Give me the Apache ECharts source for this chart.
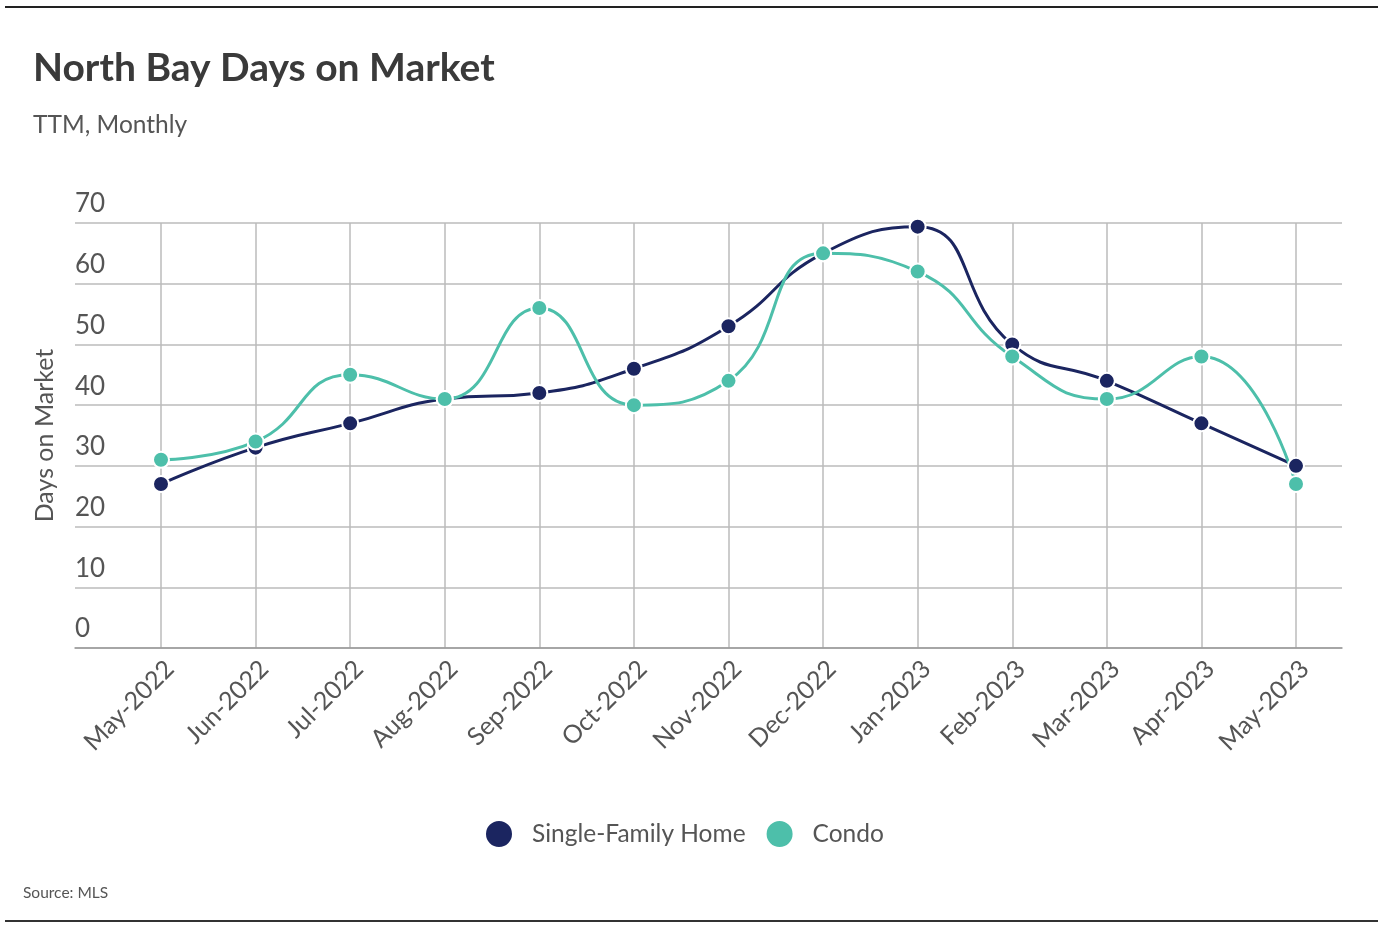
<!DOCTYPE html>
<html><head><meta charset="utf-8">
<script src="https://cdn.jsdelivr.net/npm/echarts@6/dist/echarts.min.js"></script>
<style>html,body{margin:0;padding:0;background:#fff}#c{width:1390px;height:942px}</style>
</head><body><div id="c"></div>
<script>
const categories = ['May-2022','Jun-2022','Jul-2022','Aug-2022','Sep-2022','Oct-2022','Nov-2022','Dec-2022','Jan-2023','Feb-2023','Mar-2023','Apr-2023','May-2023'];
const singleFamily = [27, 33, 37, 41, 42, 46, 53, 65, 69.4, 50, 44, 37, 30];
const condo = [31, 34, 45, 41, 56, 40, 44, 65, 62, 48, 41, 48, 27];
const yTicks = [0, 10, 20, 30, 40, 50, 60, 70];

const FONT = 'Lato';
const chart = echarts.init(document.getElementById('c'));
const gTop = 223, gBottom = 942 - 648;
chart.setOption({
  backgroundColor: '#fff',
  animation: false,
  title: [
    {text: 'North Bay Days on Market', left: 28, top: 44, textStyle: {fontFamily: FONT, fontWeight: 'bold', fontSize: 39, color: '#3a3a3a'}},
    {text: 'TTM, Monthly', left: 28, top: 108, textStyle: {fontFamily: FONT, fontWeight: 'normal', fontSize: 24.5, color: '#555'}},
    {text: 'Source: MLS', left: 18, top: 880, textStyle: {fontFamily: FONT, fontWeight: 'normal', fontSize: 15.5, color: '#555'}}
  ],
  graphic: [
    {type: 'rect', shape: {x: 5, y: 6, width: 1373, height: 2}, style: {fill: '#222'}},
    {type: 'rect', shape: {x: 5, y: 920, width: 1373, height: 2}, style: {fill: '#333'}}
  ],
  legend: {
    left: 479, top: 814,
    icon: 'circle', itemWidth: 28, itemHeight: 28, itemGap: 19,
    textStyle: {fontFamily: FONT, fontSize: 24.5, color: '#555', padding: [0, 0, 0, 14]},
    data: ['Single-Family Home', 'Condo']
  },
  grid: [
    {left: 75, right: 48, top: gTop, bottom: gBottom},
    {left: 161, right: 94, top: gTop, bottom: gBottom}
  ],
  xAxis: [
    {type: 'value', gridIndex: 0, min: 0, max: 1, axisLine: {show: true, onZero: false, lineStyle: {color: '#999', width: 1.5}}, axisTick: {show: false}, axisLabel: {show: false}, splitLine: {show: false}},
    {type: 'category', gridIndex: 1, data: categories, boundaryGap: false,
     axisLine: {show: false}, axisTick: {show: false},
     axisLabel: {rotate: 45, margin: 8, verticalAlign: 'top', fontFamily: FONT, fontSize: 25, color: '#555', interval: 0},
     splitLine: {show: true, lineStyle: {color: '#bbb', width: 1.5}}}
  ],
  yAxis: [
    {type: 'value', gridIndex: 0, min: 0, max: 70, interval: 10,
     name: 'Days on Market', nameLocation: 'middle', nameRotate: 90, nameGap: 18,
     nameTextStyle: {fontFamily: FONT, fontSize: 25, color: '#555'},
     axisLine: {show: false}, axisTick: {show: false},
     axisLabel: {align: 'left', verticalAlign: 'bottom', margin: 0, padding: [0, 0, 6, 0], fontFamily: FONT, fontSize: 26, color: '#555',
       formatter: v => yTicks.includes(v) ? String(v) : ''},
     splitLine: {show: true, lineStyle: {color: '#bbb', width: 1.5}}},
    {type: 'value', gridIndex: 1, min: 0, max: 70, interval: 10, show: false, splitLine: {show: false}}
  ],
  series: [
    {name: 'Single-Family Home', type: 'line', xAxisIndex: 1, yAxisIndex: 1, data: singleFamily, smooth: true,
     symbol: 'circle', symbolSize: 16, color: '#1b2560',
     lineStyle: {width: 3, color: '#1b2560'}, itemStyle: {color: '#1b2560', borderColor: '#fff', borderWidth: 2}},
    {name: 'Condo', type: 'line', xAxisIndex: 1, yAxisIndex: 1, data: condo, smooth: true,
     symbol: 'circle', symbolSize: 16, color: '#4dbfaa',
     lineStyle: {width: 3, color: '#4dbfaa'}, itemStyle: {color: '#4dbfaa', borderColor: '#fff', borderWidth: 2}}
  ]
});
</script></body></html>
